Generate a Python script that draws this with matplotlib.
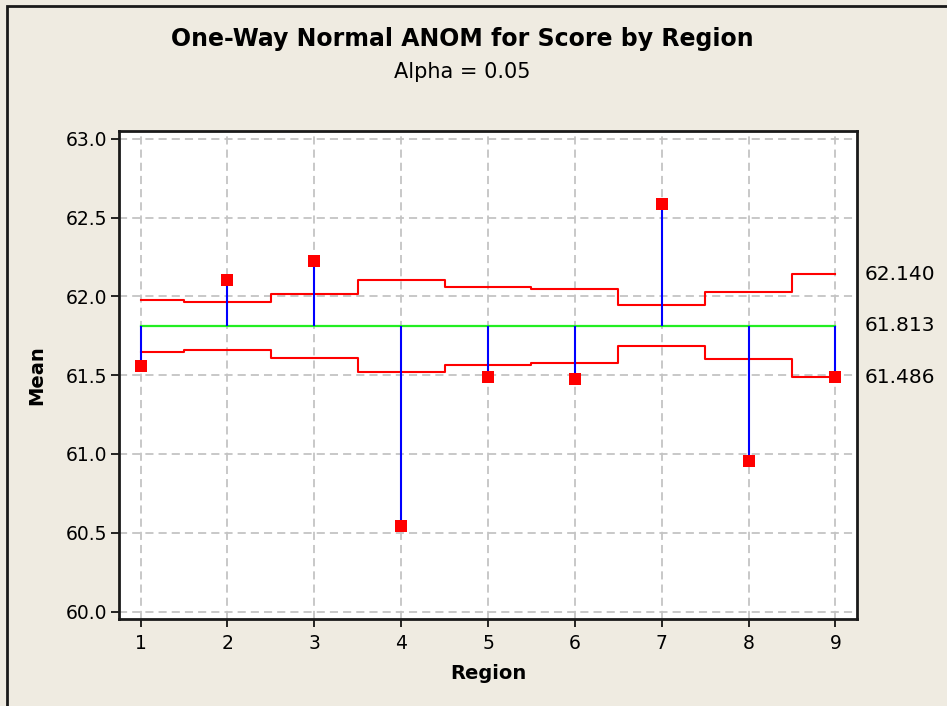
import matplotlib
matplotlib.use("Agg")
import matplotlib.pyplot as plt
from matplotlib.patches import Rectangle
from matplotlib.transforms import blended_transform_factory

regions = [1, 2, 3, 4, 5, 6, 7, 8, 9]
means = [61.558, 62.105, 62.222, 60.544, 61.488, 61.477, 62.584, 60.953, 61.488]
center = 61.813
udl = [61.977, 61.966, 62.015, 62.105, 62.061, 62.046, 61.943, 62.025, 62.140]
ldl = [61.649, 61.660, 61.611, 61.521, 61.565, 61.580, 61.683, 61.601, 61.486]
right_labels = ["62.140", "61.813", "61.486"]
right_values = [62.140, 61.813, 61.486]
yticks = [60.0, 60.5, 61.0, 61.5, 62.0, 62.5, 63.0]

W, H = 947, 706
bg = "#EFEBE1"
plt.rcParams["font.family"] = ["DejaVu Sans"]
fig = plt.figure(figsize=(W / 100, H / 100), dpi=100, facecolor=bg)

# border of the graph window
fig.patches.append(Rectangle((7 / W, -0.1), 1.2, 1 - 6 / H + 0.1, transform=fig.transFigure,
                             fill=False, edgecolor="#1a1a1a", linewidth=2, zorder=0))

ax = fig.add_axes([119.3 / W, 1 - 619 / H, (856.7 - 119.3) / W, (619 - 131) / H])
ax.set_facecolor("white")
ax.set_xlim(0.755, 9.245)
ax.set_ylim(59.953, 63.049)

ax.grid(True, color="#C4C4C4", linestyle=(0, (4.5, 2.8)), linewidth=1.3)
ax.set_axisbelow(True)

# step decision limits
xs, yu, yl = [], [], []
for i, r in enumerate(regions):
    a = max(r - 0.5, regions[0])
    b = min(r + 0.5, regions[-1])
    xs += [a, b]
    yu += [udl[i], udl[i]]
    yl += [ldl[i], ldl[i]]
ax.plot(xs, yu, color="#FF0000", linewidth=1.5, zorder=3)
ax.plot(xs, yl, color="#FF0000", linewidth=1.5, zorder=3)

ax.plot([regions[0], regions[-1]], [center, center], color="#22EE22", linewidth=1.6, zorder=3)

ax.vlines(regions, center, means, color="#0000FF", linewidth=1.5, zorder=4)
ax.plot(regions, means, linestyle="none", marker="s", markersize=8.6,
        color="#FF0000", markeredgewidth=0, zorder=5)

ax.set_xticks(regions)
ax.set_xticklabels([str(r) for r in regions])
ax.set_yticks(yticks)
ax.set_yticklabels([f"{v:.1f}" for v in yticks])
ax.tick_params(axis="both", direction="out", length=6, width=1.2, labelsize=13.5, colors="black")
ax.tick_params(axis="x", pad=5)
ax.tick_params(axis="y", pad=3)
for s in ax.spines.values():
    s.set_linewidth(2)
    s.set_color("#1a1a1a")

tr = blended_transform_factory(fig.transFigure, ax.transData)
for lab, v in zip(right_labels, right_values):
    ax.text(865 / W, v, lab, transform=tr, ha="left", va="center", fontsize=14.5, color="black")

ax.set_xlabel("Region", fontsize=14, fontweight="bold", labelpad=8)
ax.set_ylabel("Mean", fontsize=14, fontweight="bold", labelpad=14)

fig.text(462 / W, 1 - 39 / H, "One-Way Normal ANOM for Score by Region", ha="center", va="center",
         fontsize=17, fontweight="bold")
fig.text(462 / W, 1 - 72 / H, "Alpha = 0.05", ha="center", va="center", fontsize=15)

fig.savefig("out.png", dpi=100, facecolor=bg)
